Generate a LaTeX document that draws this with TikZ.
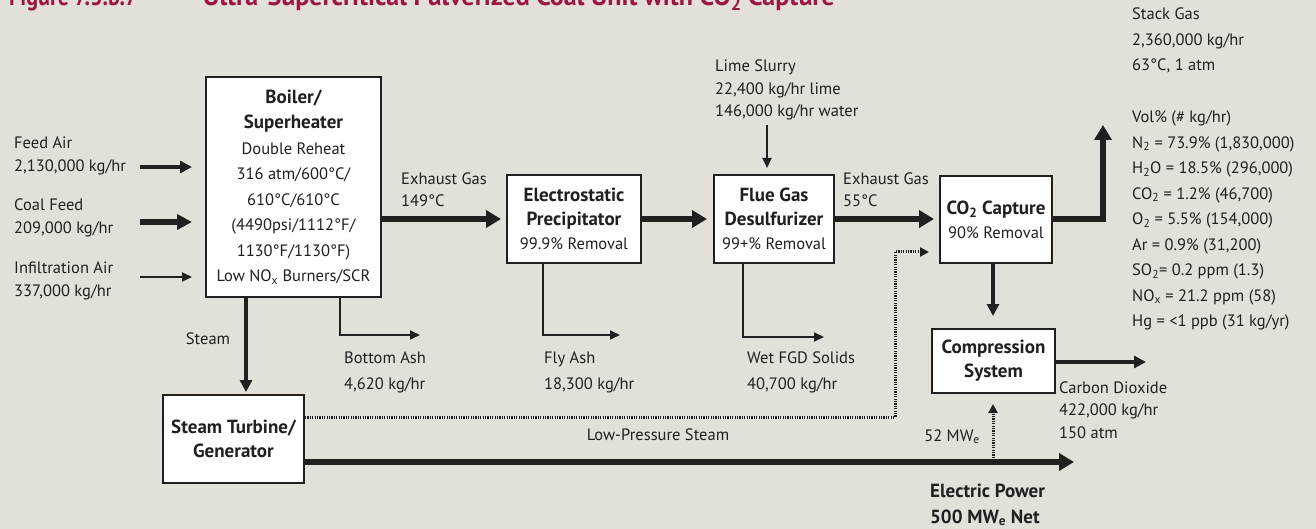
\documentclass[tikz,border=0pt]{standalone}
\usepackage{fontspec}
\setmainfont{PT Sans}
\usetikzlibrary{arrows.meta}
\definecolor{bg}{RGB}{227,223,217}
\definecolor{ink}{RGB}{35,31,32}
\definecolor{titlered}{RGB}{155,22,66}
\newcommand\boldtxt[1]{{\bfseries\fontsize{19}{24}\selectfont #1}}
\begin{document}
\begin{tikzpicture}[x=1pt,y=-1pt,
  lbl/.style={font=\fontsize{16.5}{23}\selectfont, text=ink, inner sep=0pt, align=left, anchor=base west},
  box/.style={draw=ink, line width=2pt, fill=white, inner sep=0pt, align=center, text=ink, font=\fontsize{16.5}{24}\selectfont},
  thickarrow/.style={draw=ink, line width=6pt, -{Triangle[length=15pt,width=17pt]}},
  medarrow/.style={draw=ink, line width=4pt, -{Triangle[length=12pt,width=12pt]}},
  coalarrow/.style={draw=ink, line width=6pt, -{Triangle[length=15pt,width=15pt]}},
  thinarrow/.style={draw=ink, line width=2pt, -{Triangle[length=10pt,width=9pt]}},
  dotarrow/.style={draw=ink, line width=3pt, dash pattern=on 1.2pt off 1.2pt, -{Triangle[length=9pt,width=9pt]}},
  ttl/.style={font=\bfseries\fontsize{26}{26}\selectfont, text=titlered, inner sep=0pt, anchor=base west}
]
\useasboundingbox (0,0) rectangle (1316,529);
\fill[bg] (0,0) rectangle (1316,529);

% title (cut off at top)
\node[ttl] (fig) at (9,6) {\scalebox{0.85}[1]{Figure 7.3.b.7}};
\node[ttl] (title) at (203,6) {Ultra-Supercritical Pulverized Coal Unit with CO\textsubscript{2} Capture};

% boxes
\node[box, minimum width=175pt, minimum height=220pt, font=\fontsize{16.5}{25.5}\selectfont] (boiler) at (293.5,187)
  {\boldtxt{Boiler/}\\\boldtxt{Superheater}\\Double Reheat\\316 atm/600°C/\\610°C/610°C\\(4490psi/1112°F/\\1130°F/1130°F)\\Low NO\textsubscript{x} Burners/SCR};
\node[box, minimum width=134pt, minimum height=88pt] (esp) at (574,219)
  {\boldtxt{Electrostatic}\\\boldtxt{Precipitator}\\99.9\% Removal};
\node[box, minimum width=120pt, minimum height=88pt] (fgd) at (774,219)
  {\boldtxt{Flue Gas}\\\boldtxt{Desulfurizer}\\99+\% Removal};
\node[box, minimum width=112pt, minimum height=87pt] (co2) at (996,219.5)
  {\boldtxt{CO\textsubscript{2} Capture}\\90\% Removal};
\node[box, minimum width=123pt, minimum height=64pt] (comp) at (993.5,361)
  {\boldtxt{Compression}\\\boldtxt{System}};
\node[box, minimum width=141pt, minimum height=88pt] (turb) at (233.5,439)
  {\boldtxt{Steam Turbine/}\\\boldtxt{Generator}};

% free ends
\coordinate (fa) at (140,167);
\coordinate (cf) at (140,222);
\coordinate (ia) at (140,277);
\coordinate (lime) at (767,125);
\coordinate (stack) at (1103,125);
\coordinate (ashend) at (420,335);
\coordinate (flyend) at (620,335);
\coordinate (wetend) at (824,337);
\coordinate (co2out) at (1146,362);
\coordinate (lpturn) at (895,252);
\coordinate (powend) at (1074,462);
\coordinate (mwbase) at (993,458);

% inputs
\draw[medarrow, shorten >=13pt] (fa) -- (fa -| boiler.west);
\draw[coalarrow, shorten >=13pt] (cf) -- (cf -| boiler.west);
\draw[thinarrow, shorten >=13pt] (ia) -- (ia -| boiler.west);

% gas path
\draw[thickarrow, shorten >=5pt] (boiler.east |- esp.west) -- (esp.west);
\draw[thickarrow, shorten >=6pt] (esp.east) -- (fgd.west);
\draw[thickarrow, shorten >=5pt] (fgd.east) -- (fgd.east -| co2.west);
\draw[thickarrow] (co2.east) -| (stack);
\draw[thinarrow, shorten >=6pt] (lime) -- (lime |- fgd.north);

% solids
\draw[thinarrow] ([xshift=46.5pt]boiler.south) |- (ashend);
\draw[thinarrow] ([xshift=-31pt]esp.south) |- (flyend);
\draw[thinarrow] ([xshift=-31pt]fgd.south) |- (wetend);

% steam
\draw[medarrow, shorten >=2pt] ([xshift=-47.5pt]boiler.south) -- ([xshift=-47.5pt]boiler.south |- turb.north);
\draw[dotarrow, shorten >=10pt] ([yshift=22pt]turb.east) -| (lpturn) -- (lpturn -| co2.west);

% CO2 compression
\draw[medarrow, shorten >=12pt] ([xshift=-3pt]co2.south) -- ([xshift=-3pt]co2.south |- comp.north);
\draw[medarrow] (comp.east |- co2out) -- (co2out);

% power
\draw[thickarrow] ([yshift=-23pt]turb.east) -- (powend);
\draw[dotarrow, shorten >=10pt] (mwbase) -- (mwbase |- comp.south);

% labels (anchor = baseline of last line)
\node[lbl] (lfa) at (14,172) {Feed Air\\2,130,000 kg/hr};
\node[lbl, font=\fontsize{16.5}{22.5}\selectfont] (lcf) at (14,233.5) {Coal Feed\\209,000 kg/hr};
\node[lbl] (lia) at (14,296) {Infiltration Air\\337,000 kg/hr};
\node[lbl, font=\fontsize{16.5}{22}\selectfont] (lex1) at (401,207) {Exhaust Gas\\149°C};
\node[lbl, font=\fontsize{16.5}{22}\selectfont] (lex2) at (843,207) {Exhaust Gas\\55°C};
\node[lbl, font=\fontsize{16.5}{22.5}\selectfont] (llime) at (715,117) {Lime Slurry\\22,400 kg/hr lime\\146,000 kg/hr water};
\node[lbl, font=\fontsize{16.5}{25.5}\selectfont] (lstack) at (1132,326.7)
  {Stack Gas\\2,360,000 kg/hr\\63°C, 1 atm\\[26.5pt]Vol\% (\# kg/hr)\\N\textsubscript{2} = 73.9\% (1,830,000)\\H\textsubscript{2}O = 18.5\% (296,000)\\CO\textsubscript{2} = 1.2\% (46,700)\\O\textsubscript{2} = 5.5\% (154,000)\\Ar = 0.9\% (31,200)\\SO\textsubscript{2}= 0.2 ppm (1.3)\\NO\textsubscript{x} = 21.2 ppm (58)\\Hg = <1 ppb (31 kg/yr)};
\node[lbl, anchor=base] (lsteam) at (208,344) {Steam};
\node[lbl, font=\fontsize{16.5}{26}\selectfont] (lash) at (344,389) {Bottom Ash\\4,620 kg/hr};
\node[lbl, font=\fontsize{16.5}{26}\selectfont] (lfly) at (544,389) {Fly Ash\\18,300 kg/hr};
\node[lbl, font=\fontsize{16.5}{26}\selectfont] (lwet) at (747,389) {Wet FGD Solids\\40,700 kg/hr};
\node[lbl, anchor=base] (llp) at (658,440) {Low-Pressure Steam};
\node[lbl, font=\fontsize{16.5}{22.5}\selectfont] (lco2) at (1059,438) {Carbon Dioxide\\422,000 kg/hr\\150 atm};
\node[lbl, anchor=base east] (lmw) at (980,441) {52 MW\textsubscript{e}};
\node[lbl, font=\bfseries\fontsize{19}{26}\selectfont] (lpow) at (930,523) {Electric Power\\500 MW\textsubscript{e} Net};
\end{tikzpicture}
\end{document}
